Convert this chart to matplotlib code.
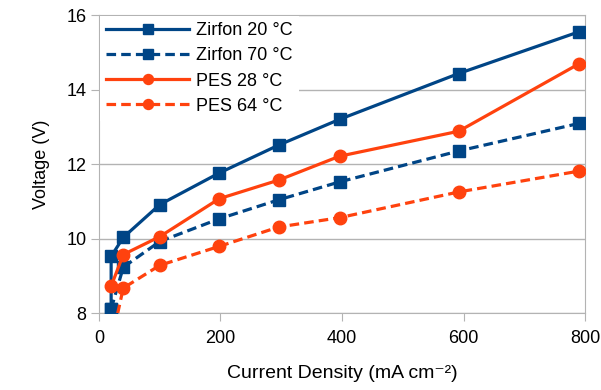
import matplotlib

matplotlib.use("Agg")
import matplotlib.pyplot as plt

plt.rcParams["font.family"] = ["Liberation Sans", "DejaVu Sans"]

BLUE = "#004586"
ORANGE = "#ff420e"

# current density (mA cm-2) and cell voltage (V)
zirfon20_x = [20, 20, 40, 100, 198, 296, 396, 592, 790]
zirfon20_y = [8.11, 9.52, 10.03, 10.91, 11.76, 12.51, 13.20, 14.43, 15.55]
zirfon70_x = [20, 40, 100, 198, 296, 396, 592, 790]
zirfon70_y = [8.11, 9.23, 9.92, 10.53, 11.04, 11.52, 12.35, 13.09]
pes28_x = [20, 40, 100, 198, 296, 396, 592, 790]
pes28_y = [8.72, 9.57, 10.05, 11.07, 11.57, 12.21, 12.88, 14.69]
pes64_x = [20, 40, 100, 198, 296, 396, 592, 790]
pes64_y = [7.20, 8.67, 9.28, 9.79, 10.31, 10.56, 11.25, 11.81]

series = [
    ("Zirfon 20 °C", zirfon20_x, zirfon20_y, BLUE, "-", "s"),
    ("Zirfon 70 °C", zirfon70_x, zirfon70_y, BLUE, "--", "s"),
    ("PES 28 °C", pes28_x, pes28_y, ORANGE, "-", "o"),
    ("PES 64 °C", pes64_x, pes64_y, ORANGE, "--", "o"),
]

fig = plt.figure(figsize=(6.01, 3.90), dpi=100)
ax = fig.add_axes([0.1647, 0.1974, 0.8087, 0.764])

for label, x, y, col, ls, mk in series:
    line, = ax.plot(x, y, color=col, ls=ls, lw=2.3, marker=mk, ms=9,
                    label=label, zorder=3)
    if ls == "--":
        line.set_dashes((3.0, 1.6))

ax.set_xlim(0, 800)
ax.set_ylim(8, 16)
ax.set_xticks([0, 200, 400, 600, 800])
ax.set_yticks([8, 10, 12, 14, 16])
ax.grid(axis="y", color="#b3b3b3", lw=1)
ax.set_axisbelow(True)
for sp in ax.spines.values():
    sp.set_color("#b3b3b3")
ax.tick_params(colors="#b3b3b3", labelcolor="black", labelsize=13,
               length=6, pad=3)
ax.tick_params(axis="x", pad=6.5)

ax.set_xlabel("Current Density (mA cm⁻²)", fontsize=14, labelpad=13)
ax.set_ylabel("Voltage (V)", fontsize=13, labelpad=12)

leg = ax.legend(loc="upper left", fontsize=13, frameon=True, fancybox=False,
                handlelength=4.6, handletextpad=0.4, borderaxespad=0.05,
                borderpad=0.35, labelspacing=0.45, markerscale=0.8)
leg.get_frame().set_edgecolor("none")
leg.get_frame().set_facecolor("white")
leg.get_frame().set_alpha(1)

fig.savefig("out.png", dpi=100)
